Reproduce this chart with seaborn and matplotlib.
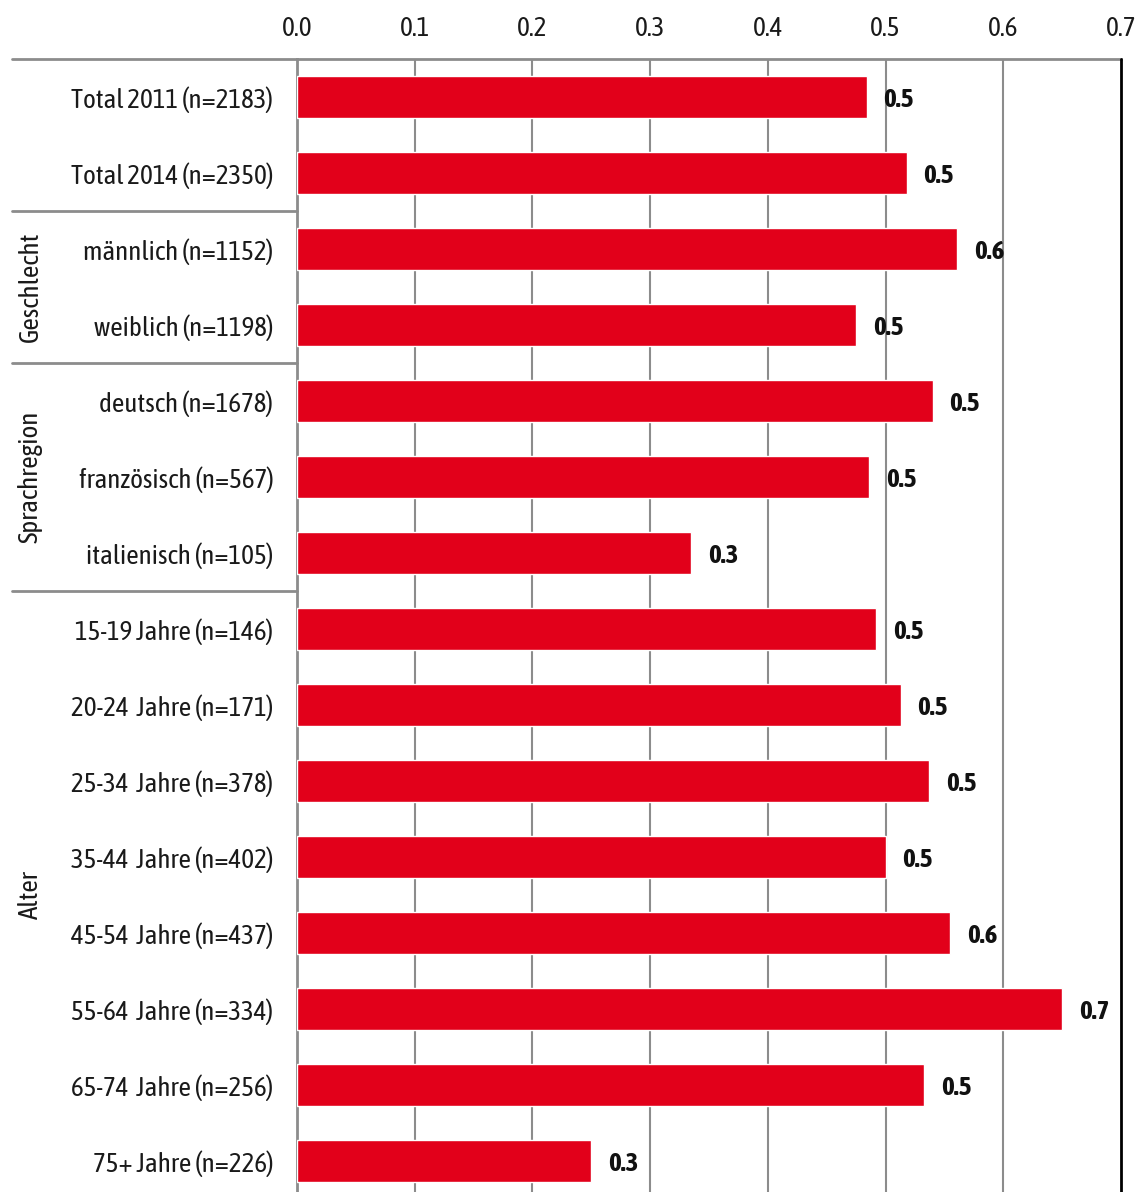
import matplotlib
matplotlib.use("Agg")
import matplotlib.pyplot as plt
import matplotlib.transforms as mtransforms
import matplotlib.patheffects as pe
from matplotlib import font_manager
import seaborn as sns
import pandas as pd

categories = [
    "Total 2011 (n=2183)", "Total 2014 (n=2350)",
    "männlich (n=1152)", "weiblich (n=1198)",
    "deutsch (n=1678)", "französisch (n=567)", "italienisch (n=105)",
    "15-19 Jahre (n=146)", "20-24  Jahre (n=171)", "25-34  Jahre (n=378)",
    "35-44  Jahre (n=402)", "45-54  Jahre (n=437)", "55-64  Jahre (n=334)",
    "65-74  Jahre (n=256)", "75+ Jahre (n=226)",
]
values = [0.484, 0.518, 0.561, 0.475, 0.540, 0.486, 0.335,
          0.492, 0.513, 0.537, 0.500, 0.555, 0.650, 0.533, 0.250]
value_labels = ["0.5", "0.5", "0.6", "0.5", "0.5", "0.5", "0.3",
                "0.5", "0.5", "0.5", "0.5", "0.6", "0.7", "0.5", "0.3"]
groups = ["Geschlecht", "Sprachregion", "Alter"]
group_rows = [(2, 3), (4, 6), (7, 14)]
separators_after = [1, 3, 6]
x_ticks = [0.0, 0.1, 0.2, 0.3, 0.4, 0.5, 0.6, 0.7]

sns.set_style("white")

# pick a condensed family if one is installed (prefer one with a bold face)
fonts = font_manager.fontManager.ttflist
names = sorted({f.name for f in fonts})
narrow = [n for n in names if "Narrow" in n or "Condensed" in n]
def has_bold(n):
    return any(f.name == n and (f.weight in ("bold", 700, 600) or
               (isinstance(f.weight, int) and f.weight >= 600)) for f in fonts)
narrow_bold = [n for n in narrow if has_bold(n)]
if narrow_bold:
    fam, fs, need_fake_bold = narrow_bold[0], 19.5, False
elif narrow:
    fam, fs, need_fake_bold = narrow[0], 19.5, True
else:
    fam, fs, need_fake_bold = "Roboto", 16, False
plt.rcParams['font.family'] = [fam, 'DejaVu Sans']

W, H = 1139, 1192
fig = plt.figure(figsize=(W / 100, H / 100), dpi=100)
left_px, right_px, top_px = 297, 1121, 59
ax = fig.add_axes([left_px / W, 0, (right_px - left_px) / W, 1 - top_px / H])

df = pd.DataFrame({"cat": categories, "val": values})
sns.barplot(data=df, y="cat", x="val", orient="h", color="#E2001A",
            saturation=1, width=0.55, ax=ax, zorder=3)

ax.set_xlim(0, 0.7)
n_px = H - top_px
ax.set_ylim(-0.5 + n_px / 76.0, -0.5)

# grid
for t in x_ticks[1:-1]:
    ax.axvline(t, color="#8c8c8c", lw=1.5, zorder=1)
ax.axvline(0.7, color="black", lw=2, zorder=4, clip_on=False)

ax.xaxis.tick_top()
ax.set_xticks(x_ticks)
ax.set_xticklabels([f"{t:.1f}" for t in x_ticks], fontsize=fs, color="#1a1a1a")
ax.tick_params(axis="x", length=0, pad=13)
ax.tick_params(axis="y", length=0, pad=17, labelsize=fs)
for lab in ax.get_yticklabels():
    lab.set_color("#1a1a1a")
ax.set_xlabel("")
ax.set_ylabel("")

for s in ["right", "bottom"]:
    ax.spines[s].set_visible(False)
ax.spines["left"].set_color("#8c8c8c")
ax.spines["left"].set_linewidth(2)
ax.spines["top"].set_color("#8c8c8c")
ax.spines["top"].set_linewidth(2)

# value labels
effects = [pe.withStroke(linewidth=1.2, foreground="#111111")] if need_fake_bold else None
for i, (v, lab) in enumerate(zip(values, value_labels)):
    ax.annotate(lab, xy=(v, i), xytext=(12, 0), textcoords="offset points",
                ha="left", va="center_baseline", fontsize=fs, fontweight="bold",
                color="#111111", zorder=5, path_effects=effects)

# separators and top line extending into label area
trans = mtransforms.blended_transform_factory(ax.transAxes, ax.transData)
x0 = (12 - left_px) / (right_px - left_px)
ax.plot([x0, 0], [-0.5, -0.5], transform=trans, color="#8c8c8c", lw=2, clip_on=False)
for r in separators_after:
    ax.plot([x0, 0], [r + 0.5, r + 0.5], transform=trans, color="#8c8c8c",
            lw=2, clip_on=False)

# group labels
gx = (30 - left_px) / (right_px - left_px)
for g, (a, b) in zip(groups, group_rows):
    ax.text(gx, (a + b) / 2, g, transform=trans, rotation=90, ha="center",
            va="center", fontsize=fs, color="#1a1a1a")

fig.savefig("out.png", dpi=100)
